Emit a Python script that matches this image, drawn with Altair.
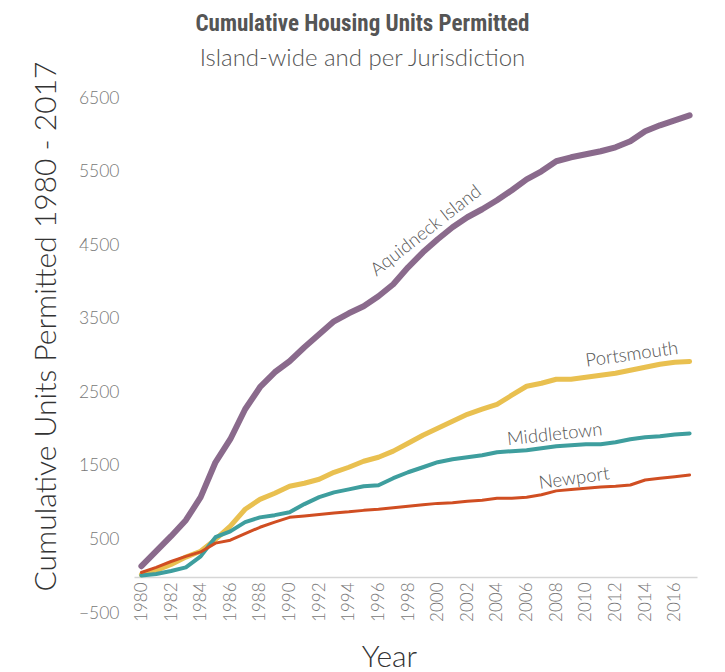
import altair as alt
import pandas as pd

years = list(range(1980, 2018))

aquidneck = [136, 340, 544, 761, 1074, 1549, 1862, 2270, 2569, 2772,
             2922, 3112, 3289, 3465, 3574, 3669, 3805, 3968, 4199, 4403,
             4580, 4743, 4879, 4988, 5110, 5246, 5395, 5504, 5640, 5694,
             5735, 5776, 5830, 5912, 6048, 6129, 6197, 6265]
portsmouth = [20, 80, 160, 260, 340, 500, 680, 910, 1045, 1128,
              1223, 1264, 1318, 1413, 1481, 1563, 1617, 1700, 1808, 1916,
              2011, 2106, 2200, 2270, 2337, 2460, 2582, 2623, 2677, 2677,
              2704, 2731, 2759, 2800, 2840, 2881, 2908, 2920]
middletown = [10, 30, 70, 120, 270, 530, 610, 735, 800, 830,
              870, 980, 1075, 1140, 1180, 1223, 1237, 1332, 1413, 1481,
              1550, 1590, 1617, 1644, 1685, 1699, 1712, 1740, 1767, 1780,
              1794, 1794, 1821, 1862, 1889, 1903, 1925, 1940]
newport = [50, 120, 200, 270, 330, 450, 490, 580, 665, 735,
           800, 820, 840, 860, 875, 895, 910, 930, 950, 970,
           990, 1000, 1020, 1033, 1060, 1060, 1074, 1108, 1160, 1180,
           1195, 1213, 1223, 1240, 1308, 1330, 1352, 1377]

series_names = ["Aquidneck Island", "Portsmouth", "Middletown", "Newport"]
series_colors = ["#8a6a8c", "#e9c050", "#3e9e9e", "#d04e22"]
series_widths = [6, 3, 3, 3]

label_text = ["Aquidneck Island", "Portsmouth", "Middletown", "Newport"]
label_year = [1999.2, 2013.1, 2007.9, 2009.2]
label_value = [4700, 3017, 1930, 1332]
label_angle = [322, 352, 354, 352]

y_ticks = [-500, 500, 1500, 2500, 3500, 4500, 5500, 6500]
x_ticks = list(range(1980, 2017, 2))

rows = []
for name, vals in zip(series_names, [aquidneck, portsmouth, middletown, newport]):
    for yr, v in zip(years, vals):
        rows.append({"Year": yr, "Units": v, "series": name})
df = pd.DataFrame(rows)

labels_df = pd.DataFrame({"text": label_text, "Year": label_year,
                          "Units": label_value, "angle": label_angle})

x_scale = alt.Scale(domain=[1979.5, 2017.5], nice=False, zero=False)
y_scale = alt.Scale(domain=[-500, 6500], nice=False, zero=False)

x_axis = alt.Axis(values=x_ticks, format="d", labelAngle=270,
                  offset=-36, ticks=False, grid=False,
                  labelOverlap=False, labelFlush=False,
                  domainColor="#d6d6d6", domainWidth=1.5,
                  labelColor="#777777", labelFontSize=17,
                  labelFont="Lato", labelFontWeight=300,
                  labelPadding=5,
                  title="Year", titleFontSize=30, titleFont="Lato",
                  titleFontWeight=300, titleColor="#333333",
                  titleX=255, titleY=89, titleBaseline="alphabetic",
                  titleAlign="center")
y_axis = alt.Axis(values=y_ticks, format="d", ticks=False, domain=False,
                  grid=False, labelColor="#777777", labelFontSize=17.5,
                  labelFont="Lato", labelFontWeight=300, labelPadding=15,
                  labelOverlap=False, labelFlush=False,
                  title="Cumulative Units Permitted 1980 - 2017",
                  titleFontSize=30, titleFont="Lato", titleFontWeight=300,
                  titleColor="#333333", titleAngle=270,
                  titleX=-79, titleY=228, titleAlign="center",
                  titleBaseline="alphabetic")

lines = alt.Chart(df).mark_line(strokeCap="round", strokeJoin="round").encode(
    x=alt.X("Year:Q", scale=x_scale, axis=x_axis),
    y=alt.Y("Units:Q", scale=y_scale, axis=y_axis),
    color=alt.Color("series:N", scale=alt.Scale(domain=series_names, range=series_colors),
                    legend=None),
    strokeWidth=alt.StrokeWidth("series:N",
                                scale=alt.Scale(domain=series_names, range=series_widths),
                                legend=None),
    order=alt.Order("Year:Q"),
)

texts = alt.Chart(labels_df).mark_text(align="center", baseline="middle",
                                       font="Lato", fontSize=18.5, fontWeight=300,
                                       color="#555555").encode(
    x=alt.X("Year:Q", scale=x_scale, axis=x_axis),
    y=alt.Y("Units:Q", scale=y_scale, axis=y_axis),
    text="text:N",
    angle=alt.Angle("angle:Q", scale=None),
)

chart = alt.layer(lines, texts).properties(
    width=563,
    height=515,
    title=alt.TitleParams(
        text="Cumulative Housing Units Permitted",
        subtitle="Island-wide and per Jurisdiction",
        anchor="middle",
        frame="group",
        dx=-53,
        dy=34,
        font="Roboto Condensed, DejaVu Sans Condensed, Roboto",
        fontSize=23,
        fontWeight="bold",
        color="#555555",
        subtitleFont="Lato",
        subtitleFontSize=24,
        subtitleFontWeight=300,
        subtitleColor="#555555",
        subtitlePadding=11,
        offset=24,
    ),
    autosize=alt.AutoSizeParams(type="none"),
    padding={"left": 126, "top": 90, "right": 20, "bottom": 66},
).configure_view(stroke=None)

chart.save("out.html", embed_options={"renderer": "svg", "actions": False})
